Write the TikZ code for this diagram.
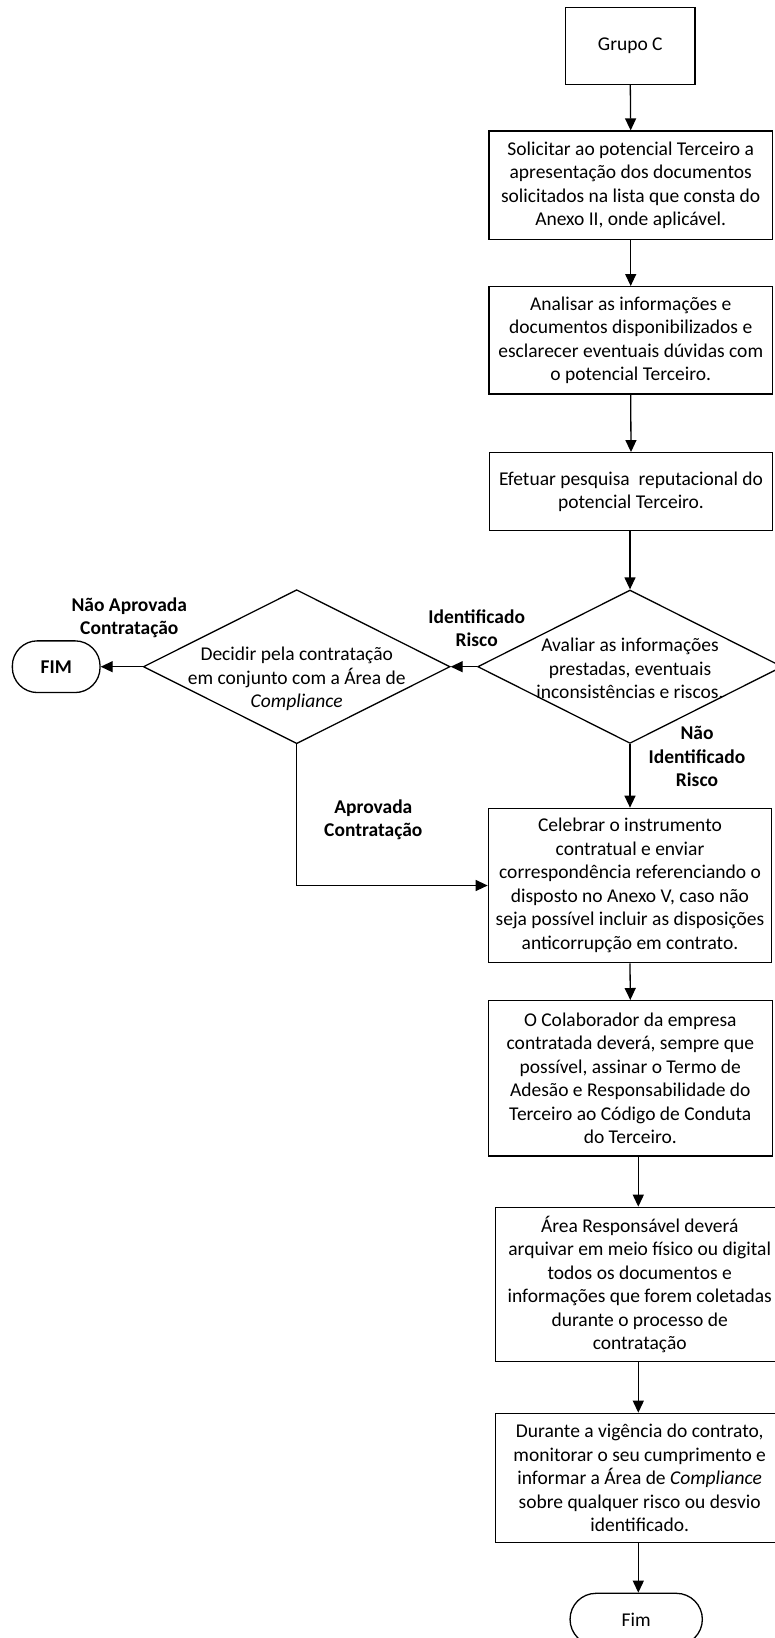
\documentclass[tikz,border=0pt]{standalone}
\usepackage{fontspec}
\setmainfont{Carlito}
\usetikzlibrary{arrows.meta,shapes.geometric}
\begin{document}
\begin{tikzpicture}[x=1pt,y=-1pt,
  every node/.style={font=\fontsize{19.5pt}{23.5pt}\selectfont},
  box/.style={draw, line width=1.3pt, align=flush center, inner xsep=0pt, inner ysep=0pt},
  dia/.style={draw, line width=1.3pt, diamond, inner sep=0pt},
  term/.style={draw, line width=1.3pt, rectangle, rounded corners=25pt, align=center, inner sep=0pt},
  txt/.style={align=center, inner sep=0pt},
  lbl/.style={align=center, inner sep=0pt, font=\fontsize{19.5pt}{23.5pt}\selectfont\bfseries},
  arr/.style={line width=1.3pt, -{Triangle[length=12pt,width=11pt]}},
  ln/.style={line width=1.3pt}
]
\fill[white] (0,0) rectangle (775,1638);
\clip (0,0) rectangle (775,1638);

\node[box, text width=129.3pt, minimum height=77pt] (g) at (630.3,45.8) {Grupo C};
\node[box, text width=283.3pt, minimum height=108.3pt] (b1) at (630.7,185.2)
  {Solicitar ao potencial Terceiro a\\apresentação dos documentos\\solicitados na lista que consta do\\Anexo II, onde aplicável.};
\node[box, text width=283.3pt, minimum height=107.3pt] (b2) at (630.7,340.3)
  {Analisar as informações e\\documentos disponibilizados e\\esclarecer eventuais dúvidas com\\o potencial Terceiro.};
\node[box, text width=283.4pt, minimum height=78pt] (b3) at (631,491.7)
  {Efetuar pesquisa~~reputacional do\\potencial Terceiro.};

\node[dia, minimum width=304.7pt, minimum height=153.4pt] (d1) at (630,666.7) {};
\node[txt] (d1t) at (630,668.3) {Avaliar as informações\\prestadas, eventuais\\inconsistências e riscos.};

\node[dia, minimum width=306.7pt, minimum height=154pt] (d2) at (296.7,666.7) {};
\node[txt] (d2t) at (296.7,679) {Decidir pela contratação\\em conjunto com a Área de\\\textit{Compliance}};

\node[term, minimum width=87.7pt, minimum height=51.7pt, font=\fontsize{19.5pt}{23.5pt}\selectfont\bfseries] (fim1) at (56.2,666.7) {FIM};

\node[box, text width=283.4pt, minimum height=154.4pt] (b4) at (630,885.5)
  {Celebrar o instrumento\\contratual e enviar\\correspondência referenciando o\\disposto no Anexo V, caso não\\seja possível incluir as disposições\\anticorrupção em contrato.};
\node[box, text width=284pt, minimum height=155.3pt] (b5) at (630.3,1078.3)
  {O Colaborador da empresa\\contratada deverá, sempre que\\possível, assinar o Termo de\\Adesão e Responsabilidade do\\Terceiro ao Código de Conduta\\do Terceiro.};
\node[box, text width=288pt, minimum height=154.4pt] (b6) at (639.7,1284.5)
  {Área Responsável deverá\\arquivar em meio físico ou digital\\todos os documentos e\\informações que forem coletadas\\durante o processo de\\contratação};
\node[box, text width=288pt, minimum height=129pt] (b7) at (639.7,1477.8)
  {Durante a vigência do contrato,\\monitorar o seu cumprimento e\\informar a Área de \textit{Compliance}\\sobre qualquer risco ou desvio\\identificado.};
\node[term, minimum width=132.3pt, minimum height=52pt, rounded corners=26pt] (fim2) at (636.2,1619.3) {Fim};

\node[lbl] (l1) at (129.3,617.8) {Não Aprovada\\Contratação};
\node[lbl] (l2) at (476.7,628.3) {Identificado\\Risco};
\node[lbl] (l3) at (697,756.9) {Não\\Identificado\\Risco};
\node[lbl] (l4) at (373.3,820) {Aprovada\\Contratação};

\draw[arr] (g.south) -- (b1.north);
\draw[arr] (b1.south) -- (b2.north);
\draw[arr] (b2.south) -- (b3.north);
\draw[arr] (b3.south -| d1.north) -- (d1.north);
\draw[arr] (d1.west) -- (d2.east);
\draw[arr] (d2.west) -- (fim1.east);
\draw[arr] (d1.south) -- (b4.north);
\draw[arr] (d2.south) |- (b4.west);
\draw[arr] (b4.south) -- (b5.north);
\coordinate (c5) at (638.3,1156);
\draw[arr] (b5.south -| c5) -- (b6.north -| c5);
\draw[arr] (b6.south -| c5) -- (b7.north -| c5);
\draw[arr] (b7.south -| c5) -- (fim2.north -| c5);
\end{tikzpicture}
\end{document}
